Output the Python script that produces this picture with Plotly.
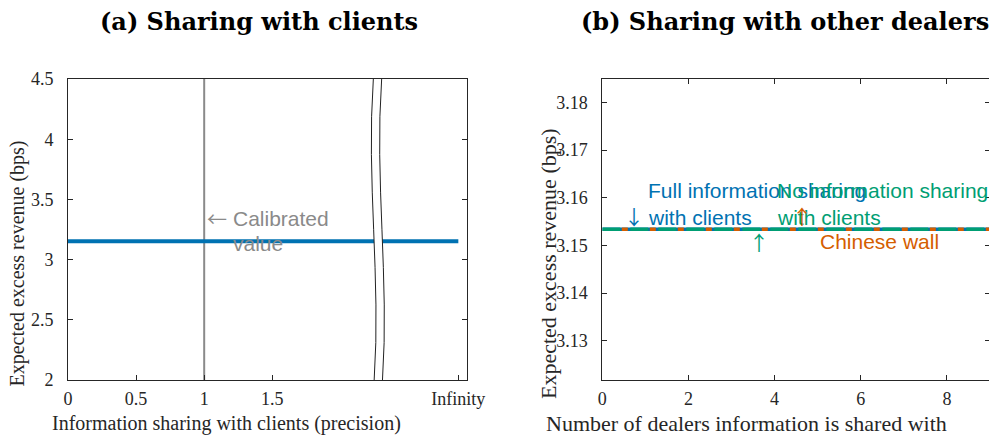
import plotly.graph_objects as go

# ---------------- data ----------------
# Panel (a): information sharing with clients (precision); last point = "Infinity"
precision_x = [0, 0.5, 1.0, 1.5, 2.0, 2.2, 2.866]
revenue_a = [3.1534, 3.1534, 3.1534, 3.1534, 3.1534, 3.1534, 3.1534]
calibrated_precision = 1.0
a_tickvals = [0, 0.5, 1, 1.5, 2.866]
a_ticktext = ["0", "0.5", "1", "1.5", "Infinity"]
a_yticks = [2, 2.5, 3, 3.5, 4, 4.5]
a_yticktext = ["2", "2.5", "3", "3.5", "4", "4.5"]

# Panel (b): number of dealers information is shared with
dealers = [0, 1, 2, 3, 4, 5, 6, 7, 8, 9]
full_sharing = [3.1534, 3.1534, 3.1534, 3.1534, 3.1534, 3.1534, 3.1534, 3.1534, 3.1534, 3.1534]
chinese_wall = [3.1534, 3.1534, 3.1534, 3.1534, 3.1534, 3.1534, 3.1534, 3.1534, 3.1534, 3.1534]
no_sharing = [3.1534, 3.1534, 3.1534, 3.1534, 3.1534, 3.1534, 3.1534, 3.1534, 3.1534, 3.1534]
b_xticks = [0, 2, 4, 6, 8]
b_yticks = [3.13, 3.14, 3.15, 3.16, 3.17, 3.18]
b_yticktext = ["3.13", "3.14", "3.15", "3.16", "3.17", "3.18"]

# ---------------- style ----------------
BLUE = "#0072B2"
GREEN = "#009E73"
ORANGE = "#D55E00"
GRAY = "#8a8a8a"
AXC = "#262626"
SERIF = "Liberation Serif, Times New Roman, serif"
SANS = "Liberation Sans, Arial, sans-serif"
ARROWF = "Noto Sans CJK JP, DejaVu Sans, sans-serif"
TITLEF = "DejaVu Serif, serif"

# the page body has an 8px margin; the figure is sized to fill the rest of the window
OFF = 8
W, H = 997 - OFF, 439 - OFF
ML, MR, MT, MB = 68 - OFF, 7, 79 - OFF, 59
PW = W - ML - MR
PH = H - MT - MB


def px2paper_x(px):  # px in window coordinates
    return (px - OFF - ML) / PW


def px2paper_y(py):
    return (H - MB - (py - OFF)) / PH


fig = go.Figure()

# panel (a)
fig.add_trace(go.Scatter(x=[calibrated_precision, calibrated_precision], y=[2, 4.5],
                         mode="lines", line=dict(color=GRAY, width=2),
                         xaxis="x", yaxis="y", showlegend=False, hoverinfo="skip"))
fig.add_trace(go.Scatter(x=precision_x, y=revenue_a, mode="lines",
                         line=dict(color=BLUE, width=4),
                         xaxis="x", yaxis="y", showlegend=False))

# panel (b)
fig.add_trace(go.Scatter(x=dealers, y=full_sharing, mode="lines",
                         line=dict(color=BLUE, width=3.5),
                         xaxis="x2", yaxis="y2", showlegend=False))
fig.add_trace(go.Scatter(x=dealers, y=chinese_wall, mode="lines",
                         line=dict(color=ORANGE, width=3.5, dash="0px,19.5px,6px,2.5px"),
                         xaxis="x2", yaxis="y2", showlegend=False))
fig.add_trace(go.Scatter(x=dealers, y=no_sharing, mode="lines",
                         line=dict(color=GREEN, width=3.5, dash="18px,10px"),
                         xaxis="x2", yaxis="y2", showlegend=False))

common_ax = dict(showgrid=False, zeroline=False, showline=True, linecolor=AXC,
                 linewidth=1, ticks="inside", ticklen=5, tickcolor=AXC, tickwidth=1,
                 automargin=False,
                 tickfont=dict(family=SERIF, size=18, color=AXC))

fig.update_layout(
    template="none",
    width=W, height=H,
    margin=dict(l=ML, r=MR, t=MT, b=MB, autoexpand=False),
    paper_bgcolor="white", plot_bgcolor="white",
    xaxis=dict(domain=[0, px2paper_x(466.5)], range=[0, 2.926],
               tickmode="array", tickvals=a_tickvals, ticktext=a_ticktext,
               mirror=True, ticklabelstandoff=2, **common_ax),
    yaxis=dict(domain=[0, 1], range=[2, 4.5], tickmode="array", tickvals=a_yticks,
               ticktext=a_yticktext,
               mirror="ticks", ticklabelstandoff=10, **common_ax),
    xaxis2=dict(domain=[px2paper_x(602.3), 1], range=[0, 9], anchor="y2",
                tickmode="array", tickvals=b_xticks,
                mirror="ticks", ticklabelstandoff=2, **common_ax),
    yaxis2=dict(domain=[0, 1], range=[3.1218, 3.1849], anchor="x2",
                tickmode="array", tickvals=b_yticks, ticktext=b_yticktext,
                mirror="ticks", ticklabelstandoff=10, **common_ax),
)

# axis break in panel (a)
bx = 2.242
bw = 0.061
fill_path = (f"M {bx},4.51 C {bx-0.053},3.663 {bx+0.057},2.831 {bx+0.006},1.99 "
             f"L {bx+bw+0.006},1.99 C {bx+bw+0.057},2.831 {bx+bw-0.053},3.663 {bx+bw},4.51 Z")
fig.add_shape(type="path", path=fill_path, xref="x", yref="y",
              fillcolor="white", line=dict(width=0), layer="above")
for off in (0, bw):
    p = (f"M {bx+off},4.5 C {bx+off-0.053},3.663 {bx+off+0.057},2.831 {bx+off+0.006},2")
    fig.add_shape(type="path", path=p, xref="x", yref="y",
                  line=dict(color="#222222", width=1), layer="above")

ann = []
# titles
ann.append(dict(text="<b>(a) Sharing with clients</b>", x=px2paper_x(259), y=px2paper_y(21),
                xref="paper", yref="paper", showarrow=False, xanchor="center", yanchor="middle",
                font=dict(family=TITLEF, size=24, color="black")))
ann.append(dict(text="<b>(b) Sharing with other dealers</b>", x=px2paper_x(785), y=px2paper_y(21),
                xref="paper", yref="paper", showarrow=False, xanchor="center", yanchor="middle",
                font=dict(family=TITLEF, size=24, color="black")))
# axis titles
ann.append(dict(text="Information sharing with clients (precision)", x=px2paper_x(226), y=px2paper_y(423),
                xref="paper", yref="paper", showarrow=False, xanchor="center", yanchor="middle",
                font=dict(family=SERIF, size=20, color=AXC)))
ann.append(dict(text="Number of dealers information is shared with", x=px2paper_x(746.7), y=px2paper_y(423),
                xref="paper", yref="paper", showarrow=False, xanchor="center", yanchor="middle",
                font=dict(family=SERIF, size=22, color=AXC)))
ann.append(dict(text="Expected excess revenue (bps)", x=px2paper_x(17.5), y=px2paper_y(264),
                xref="paper", yref="paper", showarrow=False, xanchor="center", yanchor="middle",
                textangle=-90, font=dict(family=SERIF, size=20, color=AXC)))
ann.append(dict(text="Expected excess revenue (bps)", x=px2paper_x(549), y=px2paper_y(264),
                xref="paper", yref="paper", showarrow=False, xanchor="center", yanchor="middle",
                textangle=-90, font=dict(family=SERIF, size=22, color=AXC)))


def txt(t, x, y, color, xr, yr, xanchor="left", size=21, family=SANS):
    return dict(text=t, x=x, y=y, xref=xr, yref=yr, showarrow=False, xanchor=xanchor,
                yanchor="middle", font=dict(family=family, size=size, color=color))


# panel (a) text
ann.append(txt("←", 1.005, 3.345, GRAY, "x", "y", size=20, family=ARROWF))
ann.append(txt("Calibrated", 1.2, 3.345, GRAY, "x", "y"))
ann.append(txt("value", 1.2, 3.137, GRAY, "x", "y"))

# panel (b) text
ann.append(txt("Full information sharing", 1.014, 3.1616, BLUE, "x2", "y2"))
ann.append(txt("with clients", 1.014, 3.1559, BLUE, "x2", "y2"))
ann.append(txt("↓", 0.736, 3.1561, BLUE, "x2", "y2", xanchor="center", size=20, family=ARROWF))
ann.append(txt("No information sharing", 4.004, 3.1616, GREEN, "x2", "y2"))
ann.append(txt("with clients", 4.004, 3.1559, GREEN, "x2", "y2"))
ann.append(txt("↑", 3.637, 3.1506, GREEN, "x2", "y2", xanchor="center", size=20, family=ARROWF))
ann.append(txt("↑", 4.628, 3.1560, ORANGE, "x2", "y2", xanchor="center", size=20, family=ARROWF))
ann.append(txt("Chinese wall", 5.0, 3.1508, ORANGE, "x2", "y2"))

fig.update_layout(annotations=ann)

fig.write_html("out.html")
